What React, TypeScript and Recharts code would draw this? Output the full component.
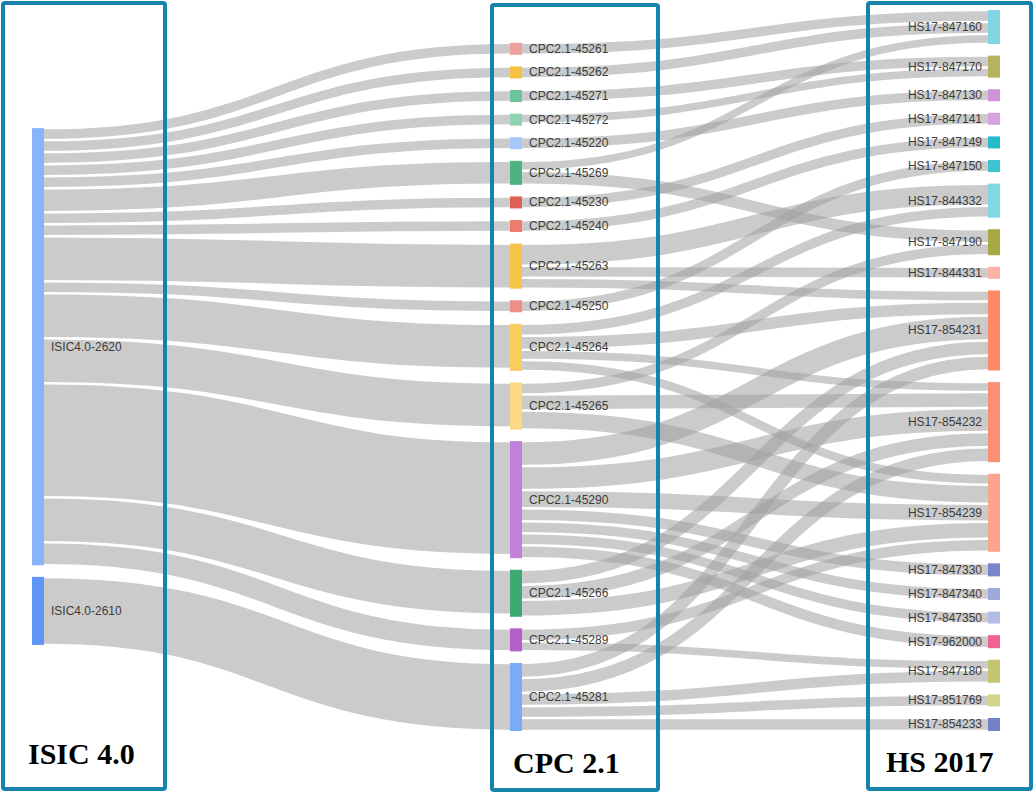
import { Sankey } from "recharts";

const isicNodes = ["ISIC4.0-2620", "ISIC4.0-2610"];

const cpcNodes = [
  "CPC2.1-45261",
  "CPC2.1-45262",
  "CPC2.1-45271",
  "CPC2.1-45272",
  "CPC2.1-45220",
  "CPC2.1-45269",
  "CPC2.1-45230",
  "CPC2.1-45240",
  "CPC2.1-45263",
  "CPC2.1-45250",
  "CPC2.1-45264",
  "CPC2.1-45265",
  "CPC2.1-45290",
  "CPC2.1-45266",
  "CPC2.1-45289",
  "CPC2.1-45281"
];

const hsNodes = [
  "HS17-847160",
  "HS17-847170",
  "HS17-847130",
  "HS17-847141",
  "HS17-847149",
  "HS17-847150",
  "HS17-844332",
  "HS17-847190",
  "HS17-844331",
  "HS17-854231",
  "HS17-854232",
  "HS17-854239",
  "HS17-847330",
  "HS17-847340",
  "HS17-847350",
  "HS17-962000",
  "HS17-847180",
  "HS17-851769",
  "HS17-854233"
];

// [source, target, value]
const isicToCpc: [string, string, number][] = [
  ["ISIC4.0-2620", "CPC2.1-45261", 12],
  ["ISIC4.0-2620", "CPC2.1-45262", 12],
  ["ISIC4.0-2620", "CPC2.1-45271", 12],
  ["ISIC4.0-2620", "CPC2.1-45272", 12],
  ["ISIC4.0-2620", "CPC2.1-45220", 12],
  ["ISIC4.0-2620", "CPC2.1-45269", 24],
  ["ISIC4.0-2620", "CPC2.1-45230", 12],
  ["ISIC4.0-2620", "CPC2.1-45240", 12],
  ["ISIC4.0-2620", "CPC2.1-45263", 45],
  ["ISIC4.0-2620", "CPC2.1-45250", 12],
  ["ISIC4.0-2620", "CPC2.1-45264", 45],
  ["ISIC4.0-2620", "CPC2.1-45265", 45],
  ["ISIC4.0-2620", "CPC2.1-45290", 114],
  ["ISIC4.0-2620", "CPC2.1-45266", 45],
  ["ISIC4.0-2620", "CPC2.1-45289", 23],
  ["ISIC4.0-2610", "CPC2.1-45281", 68]
];

const cpcToHs: [string, string, number][] = [
  ["CPC2.1-45261", "HS17-847160", 12],
  ["CPC2.1-45262", "HS17-847160", 12],
  ["CPC2.1-45271", "HS17-847170", 12],
  ["CPC2.1-45272", "HS17-847170", 10],
  ["CPC2.1-45220", "HS17-847130", 12],
  ["CPC2.1-45269", "HS17-847160", 10],
  ["CPC2.1-45269", "HS17-847190", 14],
  ["CPC2.1-45230", "HS17-847141", 12],
  ["CPC2.1-45240", "HS17-847149", 12],
  ["CPC2.1-45263", "HS17-844332", 22],
  ["CPC2.1-45263", "HS17-844331", 12],
  ["CPC2.1-45263", "HS17-854231", 11],
  ["CPC2.1-45250", "HS17-847150", 12],
  ["CPC2.1-45264", "HS17-844332", 12],
  ["CPC2.1-45264", "HS17-854231", 14],
  ["CPC2.1-45264", "HS17-854232", 10],
  ["CPC2.1-45264", "HS17-854239", 11],
  ["CPC2.1-45265", "HS17-847190", 12],
  ["CPC2.1-45265", "HS17-854232", 16],
  ["CPC2.1-45265", "HS17-854239", 19],
  ["CPC2.1-45290", "HS17-854231", 25],
  ["CPC2.1-45290", "HS17-854232", 24],
  ["CPC2.1-45290", "HS17-854239", 18],
  ["CPC2.1-45290", "HS17-847330", 13],
  ["CPC2.1-45290", "HS17-847340", 12],
  ["CPC2.1-45290", "HS17-847350", 12],
  ["CPC2.1-45290", "HS17-962000", 13],
  ["CPC2.1-45266", "HS17-854231", 15],
  ["CPC2.1-45266", "HS17-854232", 15],
  ["CPC2.1-45266", "HS17-854239", 17],
  ["CPC2.1-45289", "HS17-847180", 10],
  ["CPC2.1-45289", "HS17-854239", 13],
  ["CPC2.1-45281", "HS17-847180", 13],
  ["CPC2.1-45281", "HS17-851769", 12],
  ["CPC2.1-45281", "HS17-854233", 13],
  ["CPC2.1-45281", "HS17-854231", 15],
  ["CPC2.1-45281", "HS17-854232", 15]
];

const nodeColors: Record<string, string> = {
  "ISIC4.0-2620": "#8ab4f8",
  "ISIC4.0-2610": "#5e97f6",
  "CPC2.1-45261": "#eba29a",
  "CPC2.1-45262": "#f6c142",
  "CPC2.1-45271": "#6cc49a",
  "CPC2.1-45272": "#8fd4b0",
  "CPC2.1-45220": "#a8c7fa",
  "CPC2.1-45269": "#4fb37f",
  "CPC2.1-45230": "#e06055",
  "CPC2.1-45240": "#ec7b70",
  "CPC2.1-45263": "#f7c546",
  "CPC2.1-45250": "#ee8e86",
  "CPC2.1-45264": "#f9cd5e",
  "CPC2.1-45265": "#fbd882",
  "CPC2.1-45290": "#c27fdb",
  "CPC2.1-45266": "#3daa72",
  "CPC2.1-45289": "#b45fc8",
  "CPC2.1-45281": "#7baaf7",
  "HS17-847160": "#7fd6e2",
  "HS17-847170": "#b5b35c",
  "HS17-847130": "#ce93d8",
  "HS17-847141": "#d7a2e0",
  "HS17-847149": "#26b9c9",
  "HS17-847150": "#3ec3d0",
  "HS17-844332": "#80d8e4",
  "HS17-847190": "#a8a845",
  "HS17-844331": "#fdb3a3",
  "HS17-854231": "#ff8a65",
  "HS17-854232": "#fc9074",
  "HS17-854239": "#fca58c",
  "HS17-847330": "#7986cb",
  "HS17-847340": "#9fa8da",
  "HS17-847350": "#b3bce6",
  "HS17-962000": "#f06292",
  "HS17-847180": "#c5c56f",
  "HS17-851769": "#d4d48a",
  "HS17-854233": "#7480c8"
};

const allNames = [...isicNodes, ...cpcNodes, ...hsNodes];
const sankeyData = {
  nodes: allNames.map((name) => ({ name })),
  links: [...isicToCpc, ...cpcToHs].map(([s, t, value]) => ({
    source: allNames.indexOf(s),
    target: allNames.indexOf(t),
    value
  }))
};

const BOX = "#1683ad";
const labelFont = "'Liberation Sans', Arial, sans-serif";

function FlowNode(props: any) {
  const { x, y, width, height, payload } = props;
  const name: string = payload.name;
  const onRight = hsNodes.includes(name);
  return (
    <g>
      <rect x={x} y={y} width={width} height={height} fill={nodeColors[name] ?? "#8ab4f8"} />
      <text
        x={onRight ? x - 6 : x + width + 7}
        y={y + height / 2}
        textAnchor={onRight ? "end" : "start"}
        dominantBaseline="central"
        fontSize={12}
        fontFamily={labelFont}
        fill="#3c3c3c"
      >
        {name}
      </text>
    </g>
  );
}

function FlowLink(props: any) {
  const { sourceX, targetX, sourceY, targetY, sourceControlX, targetControlX, linkWidth } = props;
  return (
    <path
      d={`M${sourceX},${sourceY}C${sourceControlX},${sourceY} ${targetControlX},${targetY} ${targetX},${targetY}`}
      fill="none"
      stroke="#a0a0a0"
      strokeOpacity={0.55}
      strokeWidth={Math.max(1, linkWidth - 2.5)}
    />
  );
}

export default function App() {
  return (
    <div style={{ position: "absolute", left: 0, top: 0, width: 1036, height: 793, background: "#fff" }}>
      <Sankey
        width={1036}
        height={793}
        data={sankeyData}
        nodeWidth={12}
        nodePadding={11.6}
        sort={false}
        iterations={32}
        linkCurvature={0.5}
        margin={{ top: 10, right: 36, bottom: 62, left: 32 }}
        node={<FlowNode />}
        link={<FlowLink />}
      />
      <svg
        width={1036}
        height={793}
        style={{ position: "absolute", left: 0, top: 0, pointerEvents: "none" }}
      >
        <rect x={3} y={3} width={162} height={786} fill="none" stroke={BOX} strokeWidth={4} rx={2} />
        <rect x={492} y={5} width={166} height={785} fill="none" stroke={BOX} strokeWidth={4} rx={2} />
        <rect x={868} y={3} width={163} height={786} fill="none" stroke={BOX} strokeWidth={4} rx={2} />
        <g fontFamily="'Liberation Serif', 'Times New Roman', serif" fontWeight="bold" fontSize={30} fill="#000">
          <text x={28} y={764}>ISIC 4.0</text>
          <text x={513} y={773}>CPC 2.1</text>
          <text x={886} y={772}>HS 2017</text>
        </g>
      </svg>
    </div>
  );
}
